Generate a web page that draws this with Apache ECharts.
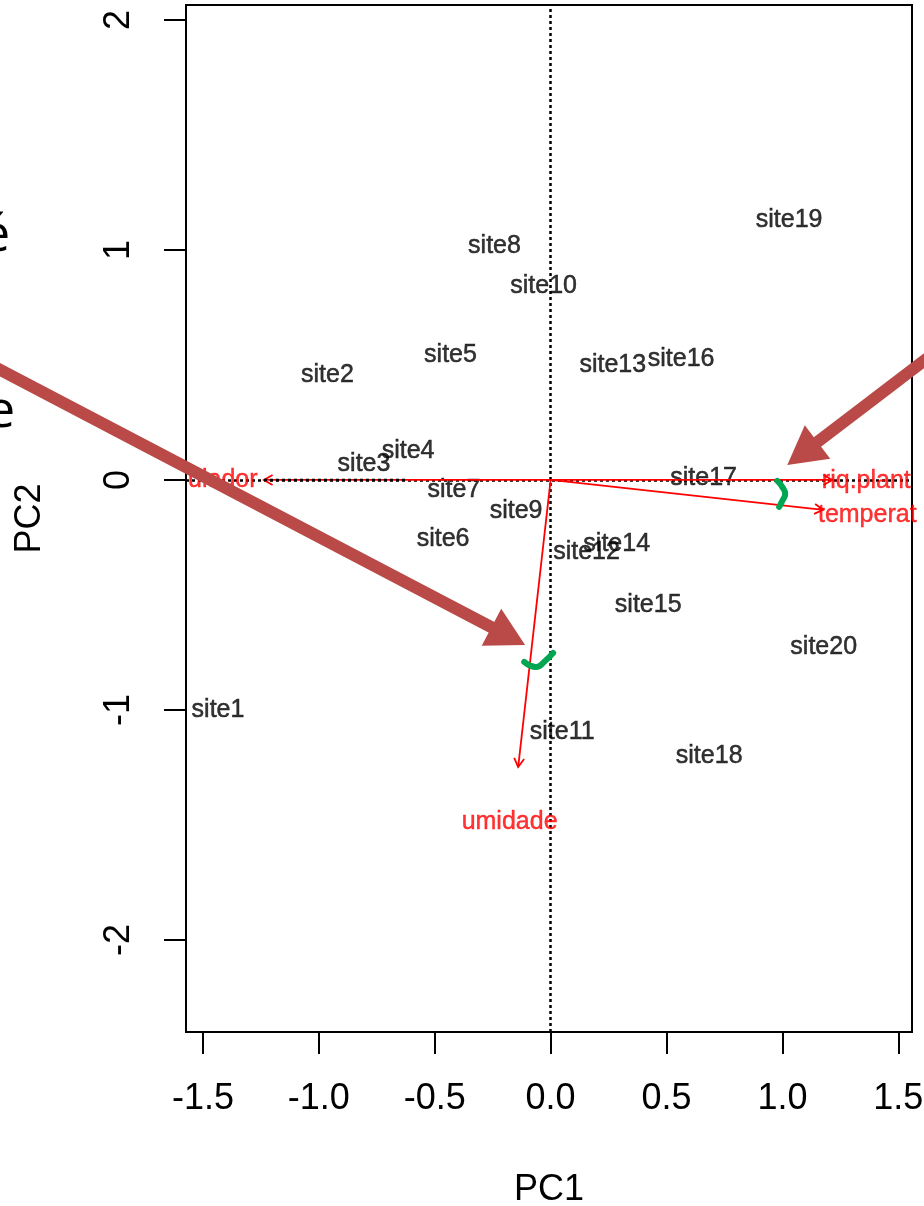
<!DOCTYPE html>
<html><head><meta charset="utf-8">
<script src="https://cdn.jsdelivr.net/npm/echarts@6/dist/echarts.min.js"></script>
<style>html,body{margin:0;padding:0;background:#fff}#chart{width:924px;height:1206px}</style>
</head><body><div id="chart"></div>
<script>
// ---- data ----
const siteNames = ['site1','site2','site3','site4','site5','site6','site7','site8','site9','site10',
                   'site11','site12','site13','site14','site15','site16','site17','site18','site19','site20'];
const siteX = [-1.435,-0.963,-0.805,-0.615,-0.432,-0.464,-0.417,-0.242,-0.149,-0.030,
                0.050, 0.155, 0.268, 0.285, 0.421, 0.563, 0.660, 0.684, 1.029, 1.178];
const siteY = [-1.000, 0.457, 0.070, 0.126, 0.543,-0.257,-0.046, 1.017,-0.137, 0.843,
               -1.096,-0.315, 0.500,-0.278,-0.543, 0.526, 0.009,-1.200, 1.130,-0.726];

const varNames  = ['ulador','riq.plant','temperat','umidade'];
const varArrowX = [-1.237, 1.215, 1.176, -0.140];
const varArrowY = [ 0.000, 0.000,-0.130, -1.248];
const varLabelX = [-1.414, 1.362, 1.366, -0.177];
const varLabelY = [ 0.000,-0.005,-0.152, -1.487];
const dottedOverlayX = [-1.237, -0.619];

const xTicks = [-1.5,-1.0,-0.5,0,0.5,1.0,1.5];
const xTickLabels = ['-1.5','-1.0','-0.5','0.0','0.5','1.0','1.5'];
const yTicks = [-2,-1,0,1,2];
const yTickLabels = ['-2','-1','0','1','2'];
const xRange = [-1.573, 1.559];
const yRange = [-2.40, 2.065];
const xTitle = 'PC1';
const yTitle = 'PC2';

// slide annotations (overlaid on the plot), in data units
const noteArrowFromX = [-2.398, 1.638];
const noteArrowFromY = [ 0.491, 0.539];
const noteArrowToX   = [-0.110, 1.021];
const noteArrowToY   = [-0.717, 0.065];
const greenMark1 = [[-0.114,-0.791],[-0.063,-0.813],[-0.024,-0.787],[0.011,-0.752]];
const greenMark2 = [[0.978,-0.004],[0.999,-0.030],[1.012,-0.061],[0.999,-0.091],[0.986,-0.117]];

// ---- chart ----
const FONT = '"Liberation Sans", Arial, sans-serif';
function labelFor(ticks, labels, v) {
  const i = ticks.findIndex(t => Math.abs(t - v) < 1e-9);
  return i >= 0 ? labels[i] : '';
}
function rArrow(params, api) {
  const a = api.coord([api.value(0), api.value(1)]);
  const b = api.coord([api.value(2), api.value(3)]);
  const dx = b[0]-a[0], dy = b[1]-a[1];
  const L = Math.hypot(dx, dy) || 1;
  const bx = -dx/L, by = -dy/L;
  const h = 10, c = Math.cos(Math.PI/6), s = Math.sin(Math.PI/6);
  const p1 = [b[0] + h*(bx*c - by*s), b[1] + h*(bx*s + by*c)];
  const p2 = [b[0] + h*(bx*c + by*s), b[1] + h*(-bx*s + by*c)];
  return {type:'group', children:[
    {type:'line', shape:{x1:a[0],y1:a[1],x2:b[0],y2:b[1]}, style:{stroke:'#FF0000', lineWidth:1.8}},
    {type:'polyline', shape:{points:[p1,b,p2]}, style:{stroke:'#FF0000', lineWidth:1.8, fill:null}}
  ]};
}
function noteArrow(params, api) {
  const a = api.coord([api.value(0), api.value(1)]);
  const b = api.coord([api.value(2), api.value(3)]);
  const dx = b[0]-a[0], dy = b[1]-a[1];
  const L = Math.hypot(dx, dy) || 1;
  const ux = dx/L, uy = dy/L;
  const len = 38, w = 42;
  const base = [b[0]-ux*len, b[1]-uy*len];
  const px = -uy, py = ux;
  return {type:'group', children:[
    {type:'line', shape:{x1:a[0],y1:a[1],x2:base[0]+ux*3,y2:base[1]+uy*3}, style:{stroke:'#B94A48', lineWidth:12}},
    {type:'polygon', shape:{points:[b,[base[0]+px*w/2, base[1]+py*w/2],[base[0]-px*w/2, base[1]-py*w/2]]}, style:{fill:'#B94A48'}}
  ]};
}
function dotted(params, api) {
  const a = api.coord([api.value(0), api.value(1)]);
  const b = api.coord([api.value(2), api.value(3)]);
  return {type:'line', shape:{x1:a[0],y1:a[1],x2:b[0],y2:b[1]}, style:{stroke:'#000', lineWidth:2.5, lineDash:[3,3]}};
}

const chart = echarts.init(document.getElementById('chart'), null, {renderer:'canvas'});
chart.setOption({
  animation: false,
  backgroundColor: '#fff',
  grid: {left:186, right:12, top:5, bottom:174, outerBoundsMode:'none', containLabel:false,
         show:true, borderColor:'#000', borderWidth:2, backgroundColor:'transparent'},
  xAxis: {
    type:'value', min:xRange[0], max:xRange[1],
    axisLine:{show:true, onZero:false, lineStyle:{color:'#000', width:2}},
    axisTick:{show:true, length:22, lineStyle:{color:'#000', width:2}, customValues:xTicks},
    axisLabel:{show:true, customValues:xTicks, margin:49, fontSize:36, fontFamily:FONT, color:'#000',
               formatter:v => labelFor(xTicks, xTickLabels, v)},
    splitLine:{show:false},
    name:xTitle, nameLocation:'middle', nameGap:140,
    nameTextStyle:{fontSize:36, fontFamily:FONT, color:'#000'}
  },
  yAxis: {
    type:'value', min:yRange[0], max:yRange[1],
    axisLine:{show:true, onZero:false, lineStyle:{color:'#000', width:2}},
    axisTick:{show:true, length:22, lineStyle:{color:'#000', width:2}, customValues:yTicks},
    axisLabel:{show:true, customValues:yTicks, rotate:90, margin:49, fontSize:36, fontFamily:FONT, color:'#000',
               formatter:v => labelFor(yTicks, yTickLabels, v)},
    splitLine:{show:false},
    name:yTitle, nameLocation:'middle', nameGap:138, nameRotate:90,
    nameTextStyle:{fontSize:36, fontFamily:FONT, color:'#000'}
  },
  series: [
    {
      type:'scatter', name:'sites', symbolSize:0, z:3,
      data: siteX.map((x,i) => [x, siteY[i]]),
      label:{show:true, position:'inside', fontSize:25, fontFamily:FONT, color:'#000',
             textBorderColor:'#000', textBorderWidth:0.5,
             formatter:p => siteNames[p.dataIndex]},
      markLine:{silent:true, symbol:['none','none'], label:{show:false}, z:1,
                lineStyle:{color:'#000', width:2.5, type:[3,3]},
                data:[{xAxis:0},{yAxis:0}]}
    },
    {
      type:'custom', name:'loadings', z:4,
      renderItem: rArrow,
      encode:{x:[0,2], y:[1,3]},
      data: varArrowX.map((x,i) => [0, 0, x, varArrowY[i]])
    },
    {
      type:'custom', name:'overlay', z:5,
      renderItem: dotted,
      encode:{x:[0,2], y:[1,3]},
      data: [[dottedOverlayX[0], 0, dottedOverlayX[1], 0]]
    },
    {
      type:'scatter', name:'vars', symbolSize:0, z:4,
      data: varLabelX.map((x,i) => [x, varLabelY[i]]),
      label:{show:true, position:'inside', fontSize:25, fontFamily:FONT, color:'#FF0000',
             textBorderColor:'#FF0000', textBorderWidth:0.4,
             formatter:p => varNames[p.dataIndex]}
    },
    {
      type:'custom', name:'notes', z:10, clip:false,
      renderItem: noteArrow,
      encode:{x:[0,2], y:[1,3]},
      data: noteArrowFromX.map((x,i) => [x, noteArrowFromY[i], noteArrowToX[i], noteArrowToY[i]])
    },
    {type:'line', z:11, data:greenMark1, smooth:true, showSymbol:false, symbol:'none',
     lineStyle:{color:'#00A651', width:6, cap:'round'}},
    {type:'line', z:11, data:greenMark2, smooth:true, showSymbol:false, symbol:'none',
     lineStyle:{color:'#00A651', width:6, cap:'round'}}
  ],
  graphic: [
    {type:'text', x:-19, y:236, style:{text:'é', font:'52px "Open Sans", sans-serif', fill:'#000', verticalAlign:'middle'}},
    {type:'text', x:-14, y:412, style:{text:'e', font:'52px "Open Sans", sans-serif', fill:'#000', verticalAlign:'middle'}}
  ]
});
</script></body></html>
